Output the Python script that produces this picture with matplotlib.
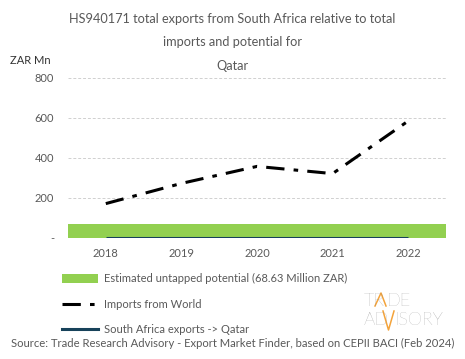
import matplotlib.pyplot as plt
import numpy as np
from matplotlib.lines import Line2D
from matplotlib.patches import Patch

YEARS = ["2018", "2019", "2020", "2021", "2022"]
IMPORTS_WORLD = [172, 273, 358, 322, 585]
SA_EXPORTS = [0, 0, 0, 0, 0]
UNTAPPED = 68.63

TITLE = "HS940171 total exports from South Africa relative to total\nimports and potential for\nQatar"
SOURCE = "Source: Trade Research Advisory - Export Market Finder, based on CEPII BACI (Feb 2024)"

GREEN = "#92d050"
TEAL = "#17425a"
GREY = "#595959"
ORANGE = "#f4a33a"
LOGO_GREY = "#8c8c8c"

plt.rcParams["font.family"] = ["Lato", "DejaVu Sans"]

fig = plt.figure(figsize=(4.65, 3.59), dpi=100)
ax = fig.add_axes([68 / 465, 1 - 238 / 359, 378 / 465, 160 / 359])

x = np.arange(len(YEARS))
ax.bar(x, [UNTAPPED] * len(YEARS), width=1.0, color=GREEN, zorder=2)
ax.plot(x, IMPORTS_WORLD, color="black", linewidth=2.2, dashes=(6, 3, 1.5, 3), zorder=3)
ax.plot(x, SA_EXPORTS, color=TEAL, linewidth=2.2, zorder=4, solid_capstyle="butt")

ax.set_xlim(-0.5, len(YEARS) - 0.5)
ax.set_ylim(0, 800)
ax.set_yticks([0, 200, 400, 600, 800])
ax.set_yticklabels(["-", "200", "400", "600", "800"])
ax.set_xticks(x)
ax.set_xticklabels(YEARS)
ax.tick_params(length=0, labelsize=8, colors=GREY, pad=10)
ax.tick_params(axis="x", pad=7)
ax.grid(axis="y", color="#d0d0d0", linestyle=(0, (3, 2)), linewidth=0.7, zorder=0)
for s in ax.spines.values():
    s.set_visible(False)

fig.text(0.5, 1 - 13 / 359, TITLE, ha="center", va="top", fontsize=9.2, color=GREY, linespacing=2.15)
fig.text(10 / 465, 1 - 60 / 359, "ZAR Mn", ha="left", va="center", fontsize=8, color="#333333")

handles = [
    Patch(facecolor=GREEN, edgecolor="none"),
    Line2D([], [], color="black", linewidth=2.2, dashes=(6, 3, 1.5, 3)),
    Line2D([], [], color=TEAL, linewidth=2.2),
]
labels = [
    "Estimated untapped potential (68.63 Million ZAR)",
    "Imports from World",
    "South Africa exports -> Qatar",
]
fig.legend(handles, labels, loc="upper left", bbox_to_anchor=(58 / 465, 1 - 269 / 359),
           frameon=False, fontsize=8, labelcolor=GREY, handlelength=3.2, handleheight=0.9,
           labelspacing=1.3, handletextpad=0.5, borderaxespad=0)


# logo: grey letters with an orange zigzag standing in for the A and the V
def px(xp, yp):
    return xp / 465, 1 - yp / 359


def logo_text(xp, yp, s):
    fig.text(*px(xp, yp), s, ha="left", va="baseline", fontsize=13, color=LOGO_GREY,
             fontweight="light")


logo_text(364, 306, "TR")
logo_text(387, 306, "DE")
logo_text(364, 325, "AD")
logo_text(395, 325, "ISORY")
zx = [375, 381, 386]
zy = [306, 293, 306]
fig.lines.append(Line2D([p / 465 for p in zx], [1 - p / 359 for p in zy],
                        transform=fig.transFigure, color=ORANGE, linewidth=1.1))
vx = [383, 388.5, 394]
vy = [311, 330, 311]
fig.lines.append(Line2D([p / 465 for p in vx], [1 - p / 359 for p in vy],
                        transform=fig.transFigure, color=ORANGE, linewidth=1.1))

fig.text(0.5, 1 - 343 / 359, SOURCE, ha="center", va="center", fontsize=8.1, color=GREY)

fig.savefig("out.png", dpi=100)
